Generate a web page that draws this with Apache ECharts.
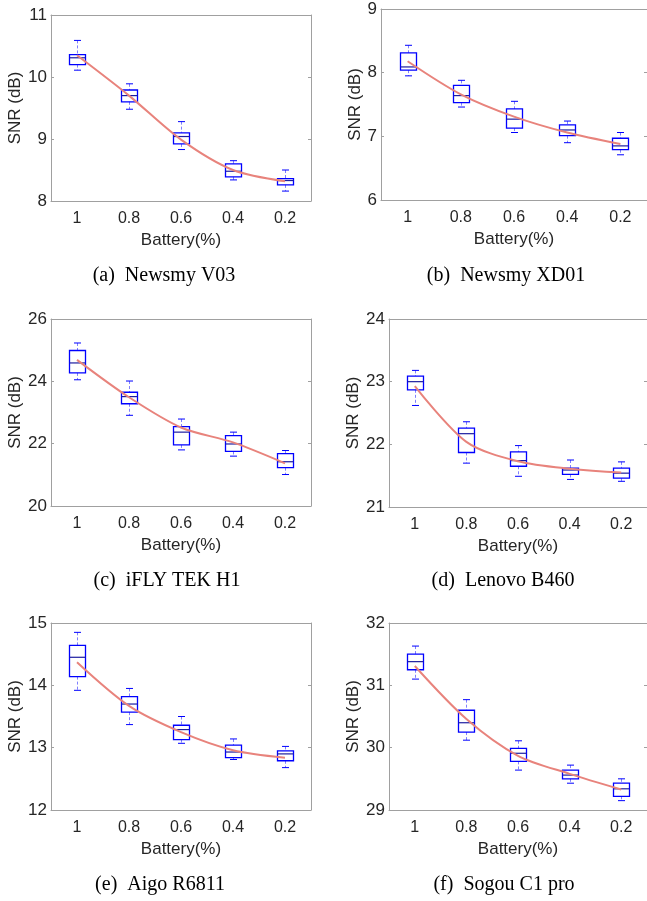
<!DOCTYPE html>
<html>
<head>
<meta charset="utf-8">
<script src="https://cdn.jsdelivr.net/npm/echarts@6/dist/echarts.min.js"></script>
<style>
  html, body { margin: 0; padding: 0; background: #fff; }
  #chart { width: 647px; height: 901px; }
</style>
</head>
<body>
<div id="chart"></div>
<script>
// battery level categories (x axis)
const categories = ['1', '0.8', '0.6', '0.4', '0.2']

// each box: [lower whisker, q1, median, q3, upper whisker]
const v03Box = [[10.11, 10.20, 10.31, 10.36, 10.59], [9.48, 9.60, 9.70, 9.79, 9.89], [8.83, 8.92, 9.04, 9.10, 9.28], [8.34, 8.39, 8.48, 8.60, 8.65], [8.16, 8.26, 8.33, 8.36, 8.50]]
const v03Line = [10.35, 9.70, 8.99, 8.50, 8.32]

const xd01Box = [[7.95, 8.04, 8.09, 8.31, 8.43], [7.46, 7.53, 7.64, 7.80, 7.88], [7.06, 7.13, 7.27, 7.43, 7.55], [6.90, 7.01, 7.10, 7.18, 7.24], [6.71, 6.79, 6.85, 6.97, 7.06]]
const xd01Line = [8.18, 7.66, 7.31, 7.06, 6.88]

const iflyBox = [[24.05, 24.27, 24.59, 24.99, 25.23], [22.91, 23.28, 23.51, 23.65, 24.01], [21.80, 21.96, 22.37, 22.55, 22.79], [21.60, 21.75, 21.99, 22.26, 22.37], [21.01, 21.23, 21.42, 21.68, 21.78]]
const iflyLine = [24.69, 23.49, 22.52, 22.04, 21.37]

const lenovoBox = [[22.62, 22.87, 23.00, 23.09, 23.18], [21.70, 21.87, 22.17, 22.26, 22.36], [21.49, 21.65, 21.74, 21.88, 21.98], [21.44, 21.52, 21.59, 21.62, 21.75], [21.41, 21.46, 21.54, 21.62, 21.72]]
const lenovoLine = [22.93, 22.04, 21.73, 21.61, 21.55]

const aigoBox = [[13.92, 14.14, 14.45, 14.64, 14.85], [13.37, 13.57, 13.70, 13.82, 13.95], [13.07, 13.13, 13.29, 13.36, 13.50], [12.81, 12.84, 12.93, 13.04, 13.14], [12.68, 12.79, 12.90, 12.95, 13.02]]
const aigoLine = [14.37, 13.67, 13.25, 12.96, 12.84]

const sogouBox = [[31.10, 31.25, 31.38, 31.50, 31.63], [30.12, 30.25, 30.40, 30.60, 30.77], [29.64, 29.78, 29.91, 29.99, 30.11], [29.43, 29.50, 29.56, 29.64, 29.72], [29.15, 29.22, 29.34, 29.43, 29.50]]
const sogouLine = [31.31, 30.46, 29.87, 29.58, 29.33]

const captions = ['(a)  Newsmy V03', '(b)  Newsmy XD01', '(c)  iFLY TEK H1', '(d)  Lenovo B460', '(e)  Aigo R6811', '(f)  Sogou C1 pro']
const yRanges = [[8, 11, 1], [6, 9, 1], [20, 26, 2], [21, 24, 1], [12, 15, 1], [29, 32, 1]]

const panels = [
  { box: v03Box, line: v03Line, grid: { left: 51, top: 15, width: 260, height: 186 }, nameGap: 22, cap: [164, 276] },
  { box: xd01Box, line: xd01Line, grid: { left: 381, top: 9, width: 268, height: 191 }, nameGap: 16, cap: [506, 276] },
  { box: iflyBox, line: iflyLine, grid: { left: 51, top: 319, width: 260, height: 187 }, nameGap: 22, cap: [167, 581] },
  { box: lenovoBox, line: lenovoLine, grid: { left: 389, top: 319, width: 258, height: 188 }, nameGap: 21, cap: [503, 581] },
  { box: aigoBox, line: aigoLine, grid: { left: 51, top: 623, width: 260, height: 187 }, nameGap: 22, cap: [160, 885] },
  { box: sogouBox, line: sogouLine, grid: { left: 389, top: 623, width: 258, height: 187 }, nameGap: 21, cap: [504, 885] },
]

const AXIS = '#a0a0a0'
const TEXT = '#262626'
const FONT = 'Liberation Sans'
const BLUE = '#0000ff'

function renderBox(params, api) {
  const x = api.value(0)
  const lo = api.coord([x, api.value(1)])
  const q1 = api.coord([x, api.value(2)])
  const md = api.coord([x, api.value(3)])
  const q3 = api.coord([x, api.value(4)])
  const hi = api.coord([x, api.value(5)])
  const cx = Math.round(lo[0]) + 0.5
  const hw = 8, cw = 3.5
  const dash = { stroke: BLUE, lineWidth: 1, lineDash: [3, 2], opacity: 0.5 }
  const solid = { stroke: BLUE, lineWidth: 1 }
  return {
    type: 'group',
    children: [
      { type: 'line', shape: { x1: cx, y1: hi[1], x2: cx, y2: q3[1] }, style: dash },
      { type: 'line', shape: { x1: cx, y1: q1[1], x2: cx, y2: lo[1] }, style: dash },
      { type: 'line', shape: { x1: cx - cw, y1: hi[1], x2: cx + cw, y2: hi[1] }, style: solid },
      { type: 'line', shape: { x1: cx - cw, y1: lo[1], x2: cx + cw, y2: lo[1] }, style: solid },
      { type: 'rect', shape: { x: cx - hw, y: q3[1], width: 2 * hw, height: q1[1] - q3[1] }, style: { stroke: BLUE, fill: null, lineWidth: 1.3 } },
      { type: 'line', shape: { x1: cx - hw, y1: md[1], x2: cx + hw, y2: md[1] }, style: { stroke: '#1c1ca0', lineWidth: 1.2 } },
    ],
  }
}

const grids = [], xAxes = [], yAxes = [], series = [], graphics = []

panels.forEach((p, i) => {
  const [ymin, ymax, step] = yRanges[i]
  grids.push(Object.assign({ containLabel: false }, p.grid))
  const xBase = {
    type: 'category', data: categories, gridIndex: i,
    axisLine: { lineStyle: { color: AXIS } },
    axisTick: { inside: true, alignWithLabel: true, length: 3, lineStyle: { color: AXIS } },
    splitLine: { show: false },
  }
  xAxes.push(Object.assign({}, xBase, {
    position: 'bottom',
    axisLabel: { color: TEXT, fontSize: 16, fontFamily: FONT, margin: 10 },
    name: 'Battery(%)', nameLocation: 'middle', nameGap: 31,
    nameTextStyle: { color: TEXT, fontSize: 17, fontFamily: FONT },
  }))
  xAxes.push(Object.assign({}, xBase, { position: 'top', axisLabel: { show: false } }))
  const yBase = {
    type: 'value', gridIndex: i, min: ymin, max: ymax, interval: step,
    axisLine: { show: true, lineStyle: { color: AXIS } },
    axisTick: { show: true, inside: true, length: 3, lineStyle: { color: AXIS } },
    splitLine: { show: false },
  }
  yAxes.push(Object.assign({}, yBase, {
    position: 'left',
    axisLabel: { color: TEXT, fontSize: 17, fontFamily: FONT, margin: 4 },
    name: 'SNR (dB)', nameLocation: 'middle', nameGap: p.nameGap,
    nameTextStyle: { color: TEXT, fontSize: 17, fontFamily: FONT },
  }))
  yAxes.push(Object.assign({}, yBase, { position: 'right', axisLabel: { show: false } }))

  series.push({
    type: 'custom', xAxisIndex: 2 * i, yAxisIndex: 2 * i,
    renderItem: renderBox,
    encode: { x: 0, y: [1, 2, 3, 4, 5] },
    data: p.box.map((b, k) => [k].concat(b)),
    z: 2,
  })
  series.push({
    type: 'line', xAxisIndex: 2 * i, yAxisIndex: 2 * i,
    data: p.line, smooth: 0.3, symbol: 'none',
    lineStyle: { color: '#e8837c', width: 2 },
    z: 3,
  })
  graphics.push({
    type: 'text', x: p.cap[0], y: p.cap[1],
    style: { text: captions[i], fill: '#000', font: '20px "Liberation Serif"', textAlign: 'center', textVerticalAlign: 'middle' },
  })
})

const chart = echarts.init(document.getElementById('chart'))
chart.setOption({
  animation: false,
  grid: grids,
  xAxis: xAxes,
  yAxis: yAxes,
  series: series,
  graphic: graphics,
})
</script>
</body>
</html>
